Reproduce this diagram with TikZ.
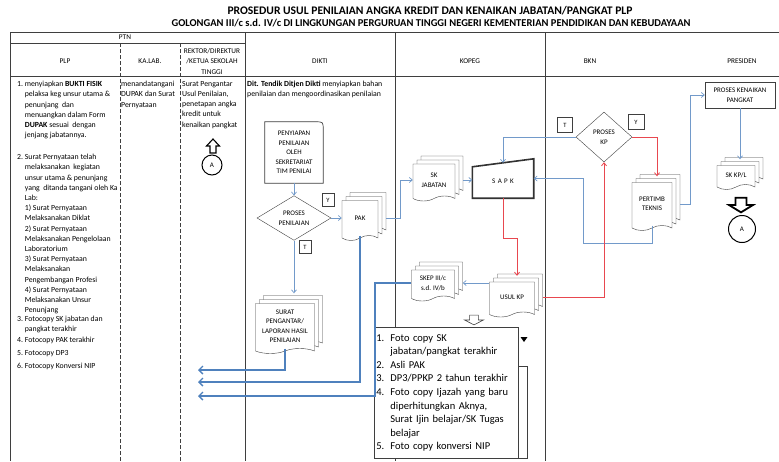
\documentclass[tikz,border=0pt]{standalone}
\usepackage{fontspec}
\setmainfont{Carlito}
\usetikzlibrary{shapes,arrows.meta,positioning,calc,shadows}
\definecolor{plpblue}{HTML}{4F81BD}
\definecolor{plpred}{HTML}{E8474F}
\definecolor{plpgray}{HTML}{3F3F3F}
\newcommand{\plpind}{\phantom{1.}\ }
\newcommand{\syind}{\hspace*{14pt}}
\newcommand{\synum}[1]{\makebox[14pt][l]{#1}}

\begin{document}
\begin{tikzpicture}[
    x=1pt,y=-1pt,
    garis/.style   = {plpgray, line width=0.7pt},
    putus/.style   = {plpgray, line width=1pt, dash pattern=on 4pt off 2pt},
    judul/.style   = {font=\bfseries, inner sep=0pt},
    kepala/.style  = {font=\fontsize{7.3}{10.5}\selectfont, align=center, inner sep=0pt},
    isi/.style     = {font=\fontsize{7.8}{10.2}\selectfont, align=left, inner sep=0pt,
                      anchor=north west},
    tulisan/.style = {font=\fontsize{7}{9.5}\selectfont, align=center, inner sep=1pt},
    doc/.style     = {tape, tape bend top=none, tape bend height=5pt, draw=plpgray,
                      fill=white, tulisan,
                      double copy shadow={shadow xshift=4pt, shadow yshift=4pt,
                                          draw=plpgray, fill=white}},
    losange/.style = {diamond, draw=plpgray, fill=white, tulisan, inner sep=0pt},
    kotak/.style   = {draw=plpgray, fill=white, font=\fontsize{6.5}{7}\selectfont,
                      minimum width=12pt, minimum height=13pt, inner sep=0pt},
    bulat/.style   = {circle, draw, line width=1pt, font=\fontsize{7}{8}\selectfont,
                      inner sep=0pt},
    tipis/.style   = {-{Straight Barb[length=3pt,width=5pt]}, plpblue!80, line width=0.7pt},
    tebal/.style   = {-{Straight Barb[length=4pt,width=8pt]}, plpblue, line width=1.4pt},
    merah/.style   = {-{Straight Barb[length=3pt,width=5pt]}, plpred, line width=0.8pt},
  ]

  \tikzset{blokpanah/.pic={
      \draw[pic actions] (-3,7) -- (3,7) -- (3,0) -- (6.5,0) -- (0,-7)
                         -- (-6.5,0) -- (-3,0) -- cycle;}}

  \useasboundingbox (0,0) rectangle (779,461);

  % kerangka tabel
  \draw[garis] (10,32) -- (779,32);
  \draw[garis] (10,43) -- (245,43);
  \draw[garis] (10,76) -- (779,76);
  \draw[garis] (10,32) -- (10,461);
  \draw[garis] (245,32) -- (245,461);
  \draw[garis] (395,32) -- (395,461);
  \draw[garis] (545,32) -- (545,461);
  \draw[putus] (120,43) -- (120,461);
  \draw[putus] (180,43) -- (180,461);

  \node[judul] (judul1) at (430,11)
       {\fontsize{11.6}{12}\selectfont PROSEDUR USUL PENILAIAN ANGKA KREDIT DAN KENAIKAN JABATAN/PANGKAT PLP};
  \node[judul] (judul2) at (431,23.5)
       {\fontsize{10.5}{12}\selectfont GOLONGAN III/c s.d. IV/c DI LINGKUNGAN PERGURUAN TINGGI NEGERI KEMENTERIAN PENDIDIKAN DAN KEBUDAYAAN};

  \node[kepala] (hptn)    at (125,37.5) {PTN};
  \node[kepala] (hplp)    at (65,61)    {PLP};
  \node[kepala] (hkalab)  at (150,61)   {KA.LAB.};
  \node[kepala] (hrektor) at (212,61)   {REKTOR/DIREKTUR\\/KETUA SEKOLAH\\TINGGI};
  \node[kepala] (hdikti)  at (320,61)   {DIKTI};
  \node[kepala] (hkopeg)  at (470,61)   {KOPEG};
  \node[kepala] (hbkn)    at (590,61)   {BKN};
  \node[kepala] (hpres)   at (742,61)   {PRESIDEN};

  % isi kolom
  \node[isi] (plptxt) at (17,81) {%
    1.\ menyiapkan \textbf{BUKTI FISIK}\\
    \plpind pelaksa keg unsur utama \&\\
    \plpind penunjang\ \ dan\\
    \plpind menuangkan dalam Form\\
    \plpind \textbf{DUPAK} sesuai\ \ dengan\\
    \plpind jenjang jabatannya.\\[11.8pt]
    2.\ Surat Pernyataan telah\\
    \plpind melaksanakan\ \ kegiatan\\
    \plpind unsur utama \& penunjang\\
    \plpind yang\ \ ditanda tangani oleh Ka\\
    \plpind Lab:\\
    \plpind 1) Surat Pernyataan\\
    \plpind Melaksanakan Diklat\\
    \plpind 2) Surat Pernyataan\\
    \plpind Melaksanakan Pengelolaan\\
    \plpind Laboratorium\\
    \plpind 3) Surat Pernyataan\\
    \plpind Melaksanakan\\
    \plpind Pengembangan Profesi\\
    \plpind 4) Surat Pernyataan\\
    \plpind Melaksanakan Unsur\\
    \plpind Penunjang\\[-1.2pt]
    3.\ Fotocopy SK jabatan dan\\
    \plpind pangkat terakhir\\[0.8pt]
    4.\ Fotocopy PAK terakhir\\[2.8pt]
    5.\ Fotocopy DP3\\[2.8pt]
    6.\ Fotocopy Konversi NIP};
  \node[isi] (kalabtxt)  at (121,81) {menandatangani\\DUPAK dan Surat\\Pernyataan};
  \node[isi] (rektortxt) at (182,81)
       {Surat Pengantar\\Usul Penilaian,\\penetapan angka\\kredit untuk\\kenaikan pangkat};
  \node[isi] (diktitxt)  at (247,81)
       {\textbf{Dit. Tendik Ditjen Dikti} menyiapkan bahan\\penilaian dan mengoordinasikan penilaian};

  \node[bulat, minimum size=20pt] (a1) at (212,165) {A};
  \draw[black, line width=1.1pt, fill=white, shift={(213,146)}]
       (-3,7) -- (3,7) -- (3,0) -- (6.5,0) -- (0,-7) -- (-6.5,0) -- (-3,0) -- cycle;

  % DIKTI
  \node[tulisan, minimum width=58pt, minimum height=61pt] (pen) at (294,152.5) {};
  \draw[garis, fill=white] (pen.south west) -- (pen.north west) -- ([xshift=-8pt]pen.north east)
       .. controls (pen.north east) .. ([yshift=-8pt]pen.north east) -- (pen.south east) -- cycle;
  \node[tulisan] at (pen) {PENYIAPAN\\PENILAIAN\\OLEH\\SEKRETARIAT\\TIM PENILAI};
  \node[losange, minimum width=74pt, minimum height=40pt] (nilai) at (294,218) {PROSES\\PENILAIAN};
  \node[kotak] (ya1)    at (328,200) {Y};
  \node[kotak] (tidak1) at (305,247) {T};
  \node[doc, minimum width=36pt, minimum height=40pt] (pak) at (360,218) {PAK};
  \node[doc, minimum width=59pt, minimum height=50pt] (surat) at (285,326)
       {SURAT\\PENGANTAR/\\LAPORAN HASIL\\PENILAIAN};

  % KOPEG
  \node[doc, minimum width=42pt, minimum height=37pt] (skjab) at (434,180) {SK\\JABATAN};
  \node[tulisan, minimum width=61pt, minimum height=39pt] (sapk) at (503,178.5) {};
  \draw[plpgray!80!black, line width=1.6pt, fill=white] (sapk.south west) -- ([yshift=-8pt]sapk.north west)
       -- (sapk.north east) -- (sapk.south east) -- cycle;
  \node[tulisan] at ([yshift=-3pt]sapk.center) {S\,\,A\,\,P\,\,K};
  \node[doc, minimum width=45pt, minimum height=35pt] (usul) at (512,297) {USUL KP};
  \node[doc, minimum width=43pt, minimum height=31pt] (skep) at (433,283) {SKEP III/c\\s.d. IV/b};
  \pic[draw=plpgray, fill=white, line width=0.6pt, xscale=1.45, yscale=-0.7] at (474,320) {blokpanah};

  \draw[garis, fill=white] (430,366) rectangle (527,458);
  \fill[black] (520.5,337) -- (527.5,337) -- (524,342) -- cycle;
  \node[draw=plpgray, line width=0.8pt, fill=white, anchor=north west, text width=140pt,
        minimum height=131pt, inner xsep=2pt, inner ysep=0pt, align=left,
        font=\fontsize{10.5}{13.6}\selectfont] (syarat) at (374,327) {%
    \synum{1.}Foto copy SK\\
    \syind jabatan/pangkat terakhir\\
    \synum{2.}Asli PAK\\
    \synum{3.}DP3/PPKP 2 tahun terakhir\\
    \synum{4.}Foto copy Ijazah yang baru\\
    \syind diperhitungkan Aknya,\\
    \syind Surat Ijin belajar/SK Tugas\\
    \syind belajar\\
    \synum{5.}Foto copy konversi NIP};

  % BKN
  \node[losange, minimum width=56pt, minimum height=50pt] (kp) at (604,137) {PROSES\\KP};
  \node[kotak, minimum width=15pt, minimum height=15pt] (tidak2) at (565,125) {T};
  \node[kotak, minimum width=16pt, minimum height=15pt] (ya2)    at (636,122) {Y};
  \node[doc, minimum width=40pt, minimum height=48pt] (pertimb) at (652,204) {PERTIMB\\TEKNIS};

  % PRESIDEN
  \node[draw=plpgray, fill=white, tulisan, minimum width=70pt, minimum height=26pt]
       (naikpkt) at (740,95) {PROSES KENAIKAN\\PANGKAT};
  \node[doc, minimum width=38pt, minimum height=24pt] (skkp) at (736,175) {SK KP/L};
  \pic[draw, fill=white, line width=1.8pt, xscale=1.85, yscale=-1.05] at (741,205) {blokpanah};
  \node[bulat, minimum size=27pt] (a2) at (742,229) {A};

  % alur
  \coordinate (kembali1) at (198,370);
  \coordinate (kembali2) at (198,382);
  \coordinate (kembali3) at (198,396);
  \coordinate (tekuk3)   at (375,396);
  \coordinate (belok)    at (583,243);

  \draw[tipis] (pen.south) -- (nilai.north);
  \draw[tipis] (nilai.east) -- (nilai.east -| pak.west);
  \draw[tipis] (nilai.south) -- ($(nilai.south |- surat.north)+(0,-10)$);
  \draw[tebal] (surat.south) |- (kembali1);
  \draw[tebal] (pak.south) |- (kembali2);
  \draw[tebal] (skep.west) -| (tekuk3) -- (kembali3);

  \draw[tipis] ($(pak.east)+(8,0)$) -- ++(14,0) |- (skjab.west);
  \draw[tipis] ($(skjab.east)+(8,0)$) -- (skjab.east -| sapk.west);
  \draw[tipis] (kp.west) -| ($(sapk.north)+(0,4)$);
  \draw[tipis] (pertimb.south) |- (belok) |- (sapk.east);
  \draw[merah] (sapk.south) -- ++(0,40) -| ($(usul.north)+(5,-6)$);
  \draw[merah] ($(usul.east)+(8,0)$) -| (kp.south);
  \draw[merah] (kp.east) -| ($(pertimb.north)+(5,-6)$);
  \draw[tipis] (usul.west |- skep.east) -- ($(skep.east)+(8,0)$);
  \draw[tipis] ($(pertimb.east)+(8,0)$) -- ++(10,0) |- (naikpkt.west);
  \draw[tipis] (naikpkt.south) -- ($(naikpkt.south |- skkp.north)+(0,-6)$);

\end{tikzpicture}
\end{document}
